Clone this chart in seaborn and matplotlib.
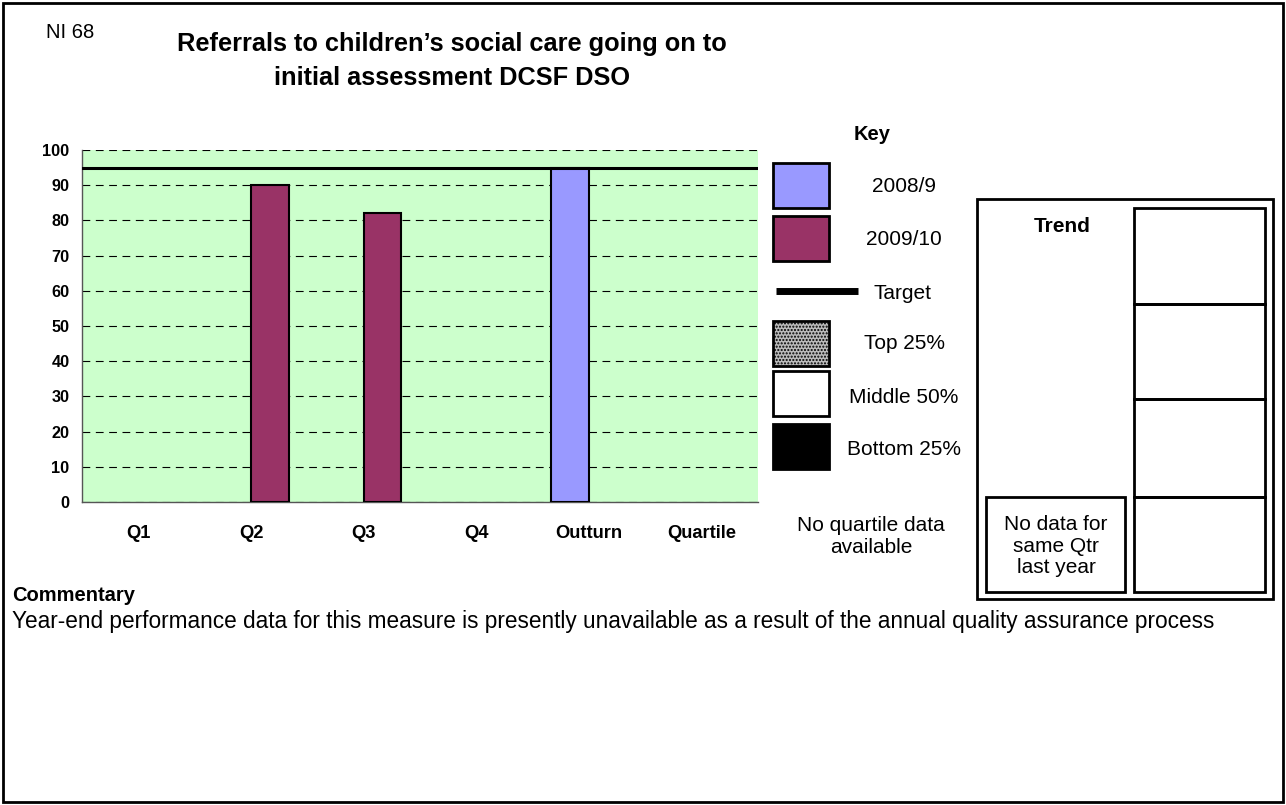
import matplotlib
matplotlib.use('Agg')
import pandas as pd
import seaborn as sns
import matplotlib.pyplot as plt
from matplotlib.patches import Rectangle

# data
categories = ['Q1', 'Q2', 'Q3', 'Q4', 'Outturn', 'Quartile']
series = ['2008/9', '2009/10']
bar_category = ['Q2', 'Q3', 'Outturn']
bar_series = ['2009/10', '2009/10', '2008/9']
bar_values = [90, 82, 95]
target = 95
yticks = list(range(0, 101, 10))
colors = {'2008/9': '#9999ff', '2009/10': '#993366'}

title = 'Referrals to children\u2019s social care going on to\ninitial assessment DCSF DSO'
commentary = ('Year-end performance data for this measure is presently unavailable '
              'as a result of the annual quality assurance process')

sns.set_style('white')
plt.rcParams['font.family'] = ['Liberation Sans', 'DejaVu Sans']
plt.rcParams['text.color'] = 'black'

df = pd.DataFrame({'category': bar_category, 'series': bar_series, 'value': bar_values})

W, H = 1286, 805
fig = plt.figure(figsize=(W / 100, H / 100), dpi=100)

# overlay in pixel coordinates for the page furniture
ov = fig.add_axes([0, 0, 1, 1])
ov.set_xlim(0, W)
ov.set_ylim(H, 0)
ov.axis('off')

# %% main chart
ax = fig.add_axes([82 / W, 1 - 502 / H, 676 / W, 352 / H])
ax.set_facecolor('#ccffcc')
sns.barplot(data=df, x='category', y='value', hue='series', order=categories,
            hue_order=series, palette=colors, width=0.667, gap=0, dodge=True,
            saturation=1, edgecolor='black', linewidth=1.5, legend=False, ax=ax,
            zorder=3)
ax.axhline(target, color='black', lw=2.2, zorder=4)

ax.set_xlim(-0.5, 5.5)
ax.set_ylim(0, 100)
ax.set_yticks(yticks)
ax.set_yticklabels([str(v) for v in yticks], fontweight='bold', fontsize=11.7)
ax.set_xticks(range(len(categories)))
ax.set_xticklabels(categories, fontweight='bold', fontsize=13.2)
ax.set_xticks([i - 0.5 for i in range(len(categories) + 1)], minor=True)
ax.tick_params(axis='x', which='major', length=0, pad=16.5, labelcolor='black')
ax.tick_params(axis='x', which='minor', length=5, color='#555555', direction='out')
ax.tick_params(axis='y', length=6, color='#555555', direction='out', pad=3,
               labelcolor='black')
ax.yaxis.grid(True, linestyle=(0, (7, 5)), color='black', lw=0.8)
ax.xaxis.grid(False)
ax.set_axisbelow(True)
ax.set_xlabel('')
ax.set_ylabel('')
for s in ['top', 'right']:
    ax.spines[s].set_visible(False)
for s in ['left', 'bottom']:
    ax.spines[s].set_color('#555555')
    ax.spines[s].set_linewidth(1)

# %% titles
ov.add_patch(Rectangle((3, 3), W - 6, H - 6, fill=False, lw=2, ec='black'))
ov.text(70, 32, 'NI 68', fontsize=14.5, ha='center', va='center')
ov.text(452, 61, title, fontsize=18.3, fontweight='bold', ha='center', va='center',
        linespacing=1.52)

# %% key
ov.text(872, 134, 'Key', fontsize=14.5, fontweight='bold', ha='center', va='center')
key_boxes = [
    (163, '#9999ff', None, '2008/9', 186),
    (216, '#993366', None, '2009/10', 239),
    (321, '#bbbbbb', '.....', 'Top 25%', 343),
    (371, 'white', None, 'Middle 50%', 397),
    (424, 'black', None, 'Bottom 25%', 449),
]
for top, fc, hatch, label, ty in key_boxes:
    ov.add_patch(Rectangle((773, top), 56, 45, fc=fc, ec='black', lw=2, hatch=hatch))
    ov.text(904, ty, label, fontsize=15, ha='center', va='center')
ov.plot([776, 858], [291, 291], color='black', lw=5, solid_capstyle='butt')
ov.text(902, 293, 'Target', fontsize=15, ha='center', va='center')
ov.text(871, 536, 'No quartile data\navailable', fontsize=15, ha='center', va='center',
        linespacing=1.2)

# %% trend box
ov.add_patch(Rectangle((977, 199), 296, 400, fill=False, ec='black', lw=2))
ov.text(1062, 226, 'Trend', fontsize=15, fontweight='bold', ha='center', va='center')
cell_edges = [208, 304, 399, 497, 592]
for top, bottom in zip(cell_edges[:-1], cell_edges[1:]):
    ov.add_patch(Rectangle((1134, top), 131, bottom - top, fill=False, ec='black', lw=2))
ov.add_patch(Rectangle((986, 497), 139, 95, fill=False, ec='black', lw=2))
ov.text(1056, 546, 'No data for\nsame Qtr\nlast year', fontsize=15, ha='center',
        va='center', linespacing=1.15)

# %% commentary
ov.text(12, 595, 'Commentary', fontsize=14.5, fontweight='bold', ha='left', va='center')
ov.text(12, 621, commentary, fontsize=16.3, ha='left', va='center')

fig.savefig('out.png', dpi=100)
